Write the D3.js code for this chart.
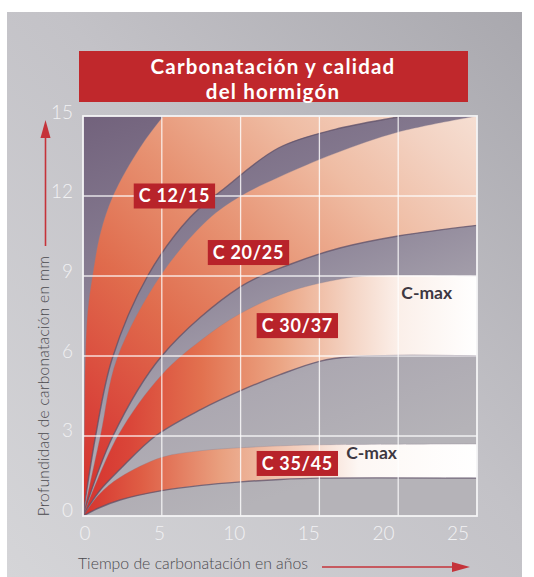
<!DOCTYPE html>
<html>
<head>
<meta charset="utf-8">
<script src="https://cdn.jsdelivr.net/npm/d3@7"></script>
<style>
  body { margin: 0; background: #fff; }
  svg { display: block; }
  text { font-family: Lato, "Open Sans", sans-serif; }
</style>
</head>
<body>
<div id="chart"></div>
<script>
// [year, depth mm], one list per band edge
const c1215Top = [[0, 0], [0.08, 3], [0.15, 6], [0.3, 7.7], [0.6, 9], [1.1, 10.6], [1.9, 12], [3.6, 13.8], [5.1, 15], [6.5, 16]];
const c1215Bottom = [[0, 0], [0.8, 3], [1.85, 5.9], [4.1, 9], [6.8, 11.2], [9, 12.3], [12.4, 13.8], [16, 14.5], [20.3, 15], [23, 15.3]];
const c2025Top = [[0, 0], [1.1, 3], [2.15, 5.9], [4.9, 9], [7.9, 11.1], [10, 12], [12.4, 12.7], [16, 13.6], [20, 14.4], [25, 15]];
const c2025Bottom = [[0, 0], [1.9, 3], [5, 6], [10, 8.6], [13.2, 9.45], [16.3, 10.05], [20, 10.5], [25, 10.9]];
const c3037Top = [[0, 0], [2.2, 3], [5, 5.3], [7.5, 6.6], [10, 7.6], [13, 8.4], [16, 8.85], [18, 9], [25, 9]];
const c3037Bottom = [[0, 0], [1, 0.9], [2.35, 1.75], [4.6, 3], [7.5, 4], [10, 4.7], [12.5, 5.3], [15, 5.8], [17, 5.97], [25, 6]];
const c3545Top = [[0, 0], [1, 0.8], [2.35, 1.45], [5, 2.2], [7.5, 2.45], [10, 2.56], [12.5, 2.63], [15, 2.67], [25, 2.7]];
const c3545Bottom = [[0, 0], [1, 0.3], [2.35, 0.6], [5, 0.95], [7.5, 1.15], [10, 1.28], [12.5, 1.37], [15, 1.42], [25, 1.42]];

const gradeNames = ["C 12/15", "C 20/25", "C 30/37", "C 35/45"];
const xTicks = [0, 5, 10, 15, 20, 25];
const yTicks = [0, 3, 6, 9, 12, 15];

const W = 534, H = 577;
const svg = d3.select("#chart").append("svg").attr("width", W).attr("height", H);
const defs = svg.append("defs");

const x = d3.scaleLinear().domain([0, 25]).range([83, 477]);
const y = d3.scaleLinear().domain([0, 15]).range([516, 116]);
// tick numbers were set a little off the grid in the print
const xLab = d3.scaleLinear().domain([0, 25]).range([85, 458]);
const yLab = d3.scaleLinear().domain([0, 15]).range([510, 112]);

// panel
const pg = defs.append("linearGradient").attr("id", "panel")
  .attr("x1", "0%").attr("y1", "100%").attr("x2", "100%").attr("y2", "0%");
pg.append("stop").attr("offset", "0%").attr("stop-color", "#d5d5d8");
pg.append("stop").attr("offset", "55%").attr("stop-color", "#c3c2c7");
pg.append("stop").attr("offset", "100%").attr("stop-color", "#a9a8ae");
svg.append("rect").attr("x", 7).attr("y", 12).attr("width", 515).attr("height", 565)
  .attr("fill", "url(#panel)");

// title
svg.append("rect").attr("x", 79).attr("y", 51).attr("width", 389).attr("height", 51)
  .attr("fill", "#c0282c");
const title = svg.append("text").attr("text-anchor", "middle")
  .attr("fill", "#fff").attr("font-size", 20.5).attr("font-weight", 700).attr("letter-spacing", 1.2);
title.append("tspan").attr("x", 273).attr("y", 74).text("Carbonatación y calidad");
title.append("tspan").attr("x", 273).attr("dy", 24.6).text("del hormigón");

// plot background
const bg = defs.append("linearGradient").attr("id", "plotbg")
  .attr("x1", "0%").attr("y1", "0%").attr("x2", "35%").attr("y2", "100%");
bg.append("stop").attr("offset", "0%").attr("stop-color", "#72627c");
bg.append("stop").attr("offset", "45%").attr("stop-color", "#8c8397");
bg.append("stop").attr("offset", "75%").attr("stop-color", "#aca8b1");
bg.append("stop").attr("offset", "100%").attr("stop-color", "#b5b3b8");

defs.append("clipPath").attr("id", "clip").append("rect")
  .attr("x", x(0)).attr("y", y(15)).attr("width", x(25) - x(0)).attr("height", y(0) - y(15));

const plot = svg.append("g").attr("clip-path", "url(#clip)");
plot.append("rect").attr("x", x(0)).attr("y", y(15))
  .attr("width", x(25) - x(0)).attr("height", y(0) - y(15)).attr("fill", "url(#plotbg)");

function bandGradient(id, x2, y2, stops) {
  const g = defs.append("linearGradient").attr("id", id)
    .attr("gradientUnits", "userSpaceOnUse")
    .attr("x1", x(0)).attr("y1", y(0)).attr("x2", x2).attr("y2", y2);
  stops.forEach(s => g.append("stop").attr("offset", s[0]).attr("stop-color", s[1]));
}
// upper bands fade towards the top right corner
bandGradient("warm", x(25), y(15), [[0, "#d3302c"], [0.15, "#d9443a"], [0.35, "#e06c4d"], [0.55, "#e79373"], [0.75, "#efbca3"], [0.9, "#f3d2c2"], [1, "#f6dfd3"]]);
// lower bands fade to white towards the right
bandGradient("pale", x(25), y(0), [[0, "#d6332e"], [0.12, "#da4639"], [0.3, "#e2714f"], [0.5, "#eba584"], [0.68, "#f4d4c4"], [0.8, "#fbefe9"], [1, "#ffffff"]]);
bandGradient("pale2", x(25), y(0), [[0, "#d6332e"], [0.15, "#df5e45"], [0.35, "#e9a07f"], [0.6, "#f6dcd0"], [0.7, "#fdf7f4"], [1, "#ffffff"]]);

const line = d3.line().x(d => x(d[0])).y(d => y(d[1])).curve(d3.curveCatmullRom.alpha(0.5));

const bands = [
  { top: c1215Top, bottom: c1215Bottom, fill: "url(#warm)" },
  { top: c2025Top, bottom: c2025Bottom, fill: "url(#warm)" },
  { top: c3037Top, bottom: c3037Bottom, fill: "url(#pale)" },
  { top: c3545Top, bottom: c3545Bottom, fill: "url(#pale2)" }
];

bands.forEach(b => {
  const up = line(b.top);
  const lo = line(b.bottom.slice().reverse());
  plot.append("path").attr("d", up + "L" + lo.slice(1) + "Z").attr("fill", b.fill);
});

// darker rims under each band
bands.forEach(b => {
  plot.append("path").attr("d", line(b.bottom)).attr("fill", "none")
    .attr("stroke", "#5f5068").attr("stroke-width", 1.4).attr("stroke-opacity", 0.75);
  plot.append("path").attr("d", line(b.top)).attr("fill", "none")
    .attr("stroke", "#8a7d8f").attr("stroke-width", 0.8).attr("stroke-opacity", 0.4);
});

// grid
const grid = svg.append("g").attr("stroke", "#fff").attr("stroke-opacity", 0.8).attr("stroke-width", 1.3);
xTicks.slice(1, -1).forEach(v => grid.append("line")
  .attr("x1", x(v)).attr("x2", x(v)).attr("y1", y(0)).attr("y2", y(15)));
yTicks.slice(1, -1).forEach(v => grid.append("line")
  .attr("x1", x(0)).attr("x2", x(25)).attr("y1", y(v)).attr("y2", y(v)));
svg.append("rect").attr("x", x(0)).attr("y", y(15))
  .attr("width", x(25) - x(0)).attr("height", y(0) - y(15))
  .attr("fill", "none").attr("stroke", "#f4f4f6").attr("stroke-width", 1.8);

// tick numbers
svg.append("g").selectAll("text").data(yTicks).join("text")
  .attr("x", 73).attr("y", d => yLab(d)).attr("dy", "0.36em")
  .attr("text-anchor", "end").attr("fill", "#f1f1f3")
  .attr("font-size", 19).attr("font-weight", 300).text(d => d);
svg.append("g").selectAll("text").data(xTicks).join("text")
  .attr("x", d => xLab(d)).attr("y", 533).attr("dy", "0.36em")
  .attr("text-anchor", "middle").attr("fill", "#f1f1f3")
  .attr("font-size", 19).attr("font-weight", 300).text(d => d);

// axis titles + arrows
svg.append("text").attr("transform", "translate(49,386) rotate(-90)")
  .attr("text-anchor", "middle").attr("fill", "#4a494e")
  .attr("font-size", 15.5).attr("font-weight", 300).attr("letter-spacing", 0.3)
  .text("Profundidad de carbonatación en mm");
svg.append("text").attr("x", 78).attr("y", 569)
  .attr("fill", "#4a494e").attr("font-size", 15.8).attr("font-weight", 300)
  .text("Tiempo de carbonatación en años");

const red = "#c5333a";
svg.append("line").attr("x1", 45.5).attr("x2", 45.5).attr("y1", 246).attr("y2", 132)
  .attr("stroke", red).attr("stroke-width", 1.6);
svg.append("path").attr("d", "M45.5,120 L40.5,138 L50.5,138 Z").attr("fill", red);
svg.append("line").attr("x1", 322).attr("x2", 458).attr("y1", 567).attr("y2", 567)
  .attr("stroke", red).attr("stroke-width", 1.6);
svg.append("path").attr("d", "M470,567 L452,562 L452,572 Z").attr("fill", red);

// grade labels
function gradeLabel(name, cx, cy) {
  const g = svg.append("g");
  const t = g.append("text").attr("x", cx).attr("y", cy).attr("dy", "0.36em")
    .attr("text-anchor", "middle").attr("fill", "#fff")
    .attr("font-size", 18).attr("font-weight", 700).attr("letter-spacing", 0.7).text(name);
  const w = t.node().getComputedTextLength() + 10;
  g.insert("rect", "text").attr("x", cx - w / 2).attr("y", cy - 12.5)
    .attr("width", w).attr("height", 25).attr("fill", "#b8232a");
}
gradeLabel(gradeNames[0], x(5.8), y(12));
gradeLabel(gradeNames[1], x(10.5), y(9.88));
gradeLabel(gradeNames[2], x(13.6), y(7.14));
gradeLabel(gradeNames[3], x(13.6), y(1.97));

svg.append("text").attr("x", x(20.2)).attr("y", y(8.14))
  .attr("fill", "#3e3842").attr("font-size", 17.5).attr("font-weight", 700).text("C-max");
svg.append("text").attr("x", x(16.7)).attr("y", y(2.14))
  .attr("fill", "#3e3842").attr("font-size", 17.5).attr("font-weight", 700).text("C-max");
</script>
</body>
</html>
